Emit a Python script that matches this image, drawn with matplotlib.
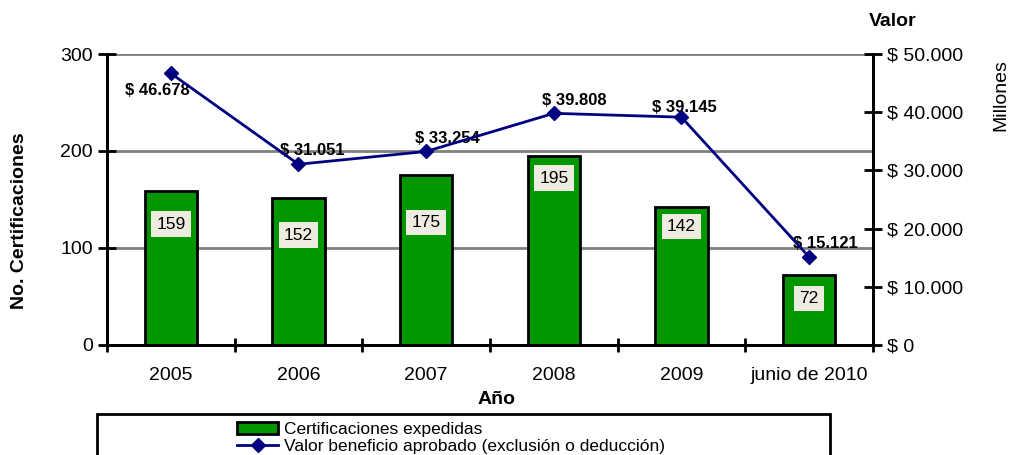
import numpy as np
import matplotlib
matplotlib.use('Agg')
import matplotlib.pyplot as plt
from matplotlib.lines import Line2D
from matplotlib.patches import Patch, Rectangle
from matplotlib.ticker import FuncFormatter

plt.rcParams['font.family'] = ['Liberation Sans', 'DejaVu Sans']

# Datos
anios = ['2005', '2006', '2007', '2008', '2009', 'junio de 2010']
certificaciones = [159, 152, 175, 195, 142, 72]
valor_millones = [46678, 31051, 33254, 39808, 39145, 15121]

# desplazamiento (en puntos) de las etiquetas de las barras bajo su borde superior
offset_barras = [-24, -27, -34, -16, -14, -17]

def miles(v):
    return f'{int(round(v)):,}'.replace(',', '.')

fig = plt.figure(figsize=(10.12, 4.55), dpi=100)
ax = fig.add_axes([0.1057, 0.2418, 0.7569, 0.6395])
ax2 = ax.twinx()

x = np.arange(len(anios))

# Barras
ax.bar(x, certificaciones, width=0.41, color='#009600', edgecolor='black',
       linewidth=2, zorder=3)
ax.set_xlim(-0.5, len(anios) - 0.5)
ax.set_ylim(0, 300)
ax.set_yticks([0, 100, 200, 300])
ax.yaxis.grid(True, color='#808080', linewidth=2, zorder=0)
ax.set_axisbelow(True)

for xi, c, off in zip(x, certificaciones, offset_barras):
    ax.annotate(str(c), xy=(xi, c), xytext=(0, off), textcoords='offset points',
                ha='center', va='center', fontsize=12.5, zorder=5,
                bbox=dict(boxstyle='square,pad=0.3', facecolor='#EEECE1',
                          edgecolor='none'))

# Linea
ax2.plot(x, valor_millones, color='#000080', linewidth=2, marker='D',
         markersize=7, zorder=4)
ax2.set_ylim(0, 50000)
ax2.set_yticks([0, 10000, 20000, 30000, 40000, 50000])
ax2.yaxis.set_major_formatter(FuncFormatter(lambda v, p: '$ ' + miles(v)))

offsets_linea = [(-10, -12), (10, 10), (15, 9), (15, 9), (2, 7), (12, 10)]
for xi, v, off in zip(x, valor_millones, offsets_linea):
    ax2.annotate('$ ' + miles(v), xy=(xi, v), xytext=off, textcoords='offset points',
                 ha='center', va='center', fontsize=12, fontweight='bold')

# Ejes
ax.set_xticks(x)
ax.set_xticklabels(anios, fontsize=14)
ax.set_xticks(np.arange(-0.5, len(anios)), minor=True)
ax.tick_params(axis='x', which='major', length=0, pad=16)
ax.tick_params(axis='x', which='minor', direction='inout', length=10, width=2)
ax.tick_params(axis='y', direction='inout', length=13, width=2, labelsize=14)
ax2.tick_params(axis='y', direction='inout', length=13, width=2, labelsize=14)

for a in (ax, ax2):
    a.spines['top'].set_visible(False)
    for s in ('left', 'right', 'bottom'):
        a.spines[s].set_linewidth(2)
        a.spines[s].set_color('black')

fig.text(20 / 1012, 1 - 221 / 455, 'No. Certificaciones', rotation=90,
         ha='center', va='center', fontsize=14, fontweight='bold')
fig.text(497 / 1012, 1 - 400 / 455, 'Año', ha='center', va='center',
         fontsize=14, fontweight='bold')
fig.text(893 / 1012, 1 - 22 / 455, 'Valor', ha='center', va='center',
         fontsize=14, fontweight='bold')
fig.text(1001 / 1012, 1 - 95 / 455, 'Millones', rotation=90,
         ha='center', va='center', fontsize=14)

# Leyenda
fig.patches.append(Rectangle((97 / 1012, -0.1), 733 / 1012, 0.1 + (455 - 414) / 455,
                             transform=fig.transFigure, facecolor='white',
                             edgecolor='black', linewidth=2))
handles = [Patch(facecolor='#009600', edgecolor='black', linewidth=2),
           Line2D([], [], color='#000080', linewidth=2, marker='D', markersize=7)]
fig.legend(handles, ['Certificaciones expedidas',
                     'Valor beneficio aprobado (exclusión o deducción)'],
           loc='upper left', bbox_to_anchor=(228 / 1012, 1 - 413 / 455),
           frameon=False, fontsize=12.5, handlelength=2.4, handletextpad=0.3,
           labelspacing=0.1, borderpad=0.0)

fig.savefig('out.png', dpi=100)
